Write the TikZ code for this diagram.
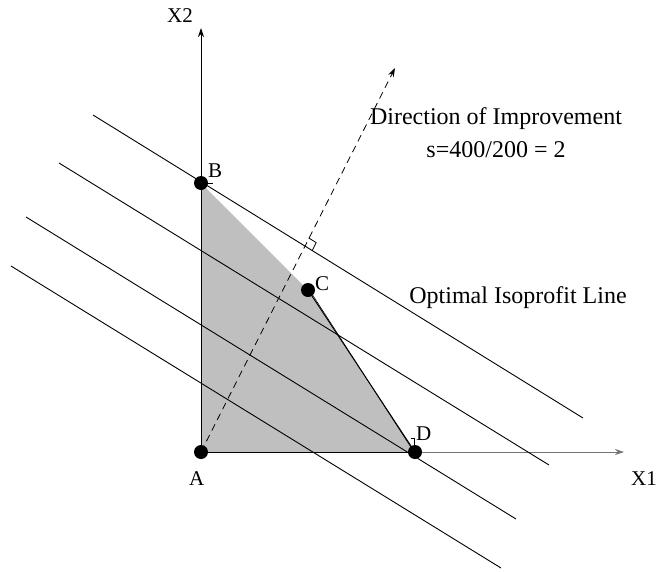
\documentclass[tikz,border=0pt]{standalone}
\usepackage{fontspec}
\setmainfont{Liberation Serif}
\usetikzlibrary{arrows.meta,calc}
\begin{document}
\begin{tikzpicture}[x=1pt,y=-1pt,
  iso/.style={line width=0.9pt},
  axis/.style={line width=0.9pt,-{Stealth[length=9pt,width=6pt,inset=3pt]}},
  pt/.style={circle,fill=black,inner sep=0pt,minimum size=14pt},
  lbl/.style={anchor=base west,inner sep=0pt,font=\fontsize{21}{25}\selectfont},
  txt/.style={anchor=base,inner sep=0pt,font=\fontsize{24}{33}\selectfont,align=center}]
\useasboundingbox (0,0) rectangle (659,571);
% points
\coordinate (a) at (201,452);
\coordinate (b) at (201,183);
\coordinate (c) at (308,290);
\coordinate (d) at (415,452);
% feasible region
\fill[black!25] (a) -- (b) -- (c) -- (d) -- cycle;
% axes
\coordinate (x2end) at (201,28);
\coordinate (x1end) at (624,452);
\draw[axis] (a) -- (x2end);
\draw[axis,draw=black!55] (d) -- (x1end);
\draw[line width=0.9pt] (a) -- (d);
\draw[line width=0.9pt] (c) -- (d);
\draw[line width=0.6pt] ($(c)+(2,1)$) -- ($(d)+(-1,0)$);
% isoprofit lines
\coordinate (l1s) at (93,115);  \coordinate (l1e) at (583,418);
\coordinate (l2s) at (59,163);  \coordinate (l2e) at (549,465);
\coordinate (l3s) at (26,217);  \coordinate (l3e) at (516,519);
\coordinate (l4s) at (11,266);  \coordinate (l4e) at (501,568);
\draw[iso] (l1s) -- (l1e);
\draw[iso] (l2s) -- (l2e);
\draw[iso] (l3s) -- (l3e);
\draw[iso] (l4s) -- (l4e);
% direction of improvement
\coordinate (dirend) at (395,68);
\draw[line width=0.8pt,dash pattern=on 7pt off 5pt,-{Stealth[length=9pt,width=6pt,inset=3pt]}] (a) -- (dirend);
% right angle marker
\coordinate (p) at (304.6,245.9);
\draw[line width=0.8pt] ($(p)+(4.0,-8.0)$) -- ($(p)+(4.0,-8.0)+(7.6,4.7)$) -- ($(p)+(7.6,4.7)$);
% small ticks
\draw[line width=0.8pt] (b) -- ++(12,0);
\draw[line width=0.8pt] ($(d)+(-1,-6)$) -- ++(0,-8) -- ++(-3,0);
% dots
\node[pt] (A) at (a) {};
\node[pt] (B) at (b) {};
\node[pt] (C) at (c) {};
\node[pt] (D) at (d) {};
% labels
\node[lbl] (lA) at (189,485) {A};
\node[lbl] (lB) at (208,177) {B};
\node[lbl] (lC) at (315,290) {C};
\node[lbl] (lD) at (416,440) {D};
\node[lbl] (lX2) at (167,22) {X2};
\node[lbl] (lX1) at (631,485) {X1};
\node[txt] (dir) at (496,157) {Direction of Improvement\\s=400/200 = 2};
\node[txt] (opt) at (518,303) {Optimal Isoprofit Line};
\end{tikzpicture}
\end{document}
